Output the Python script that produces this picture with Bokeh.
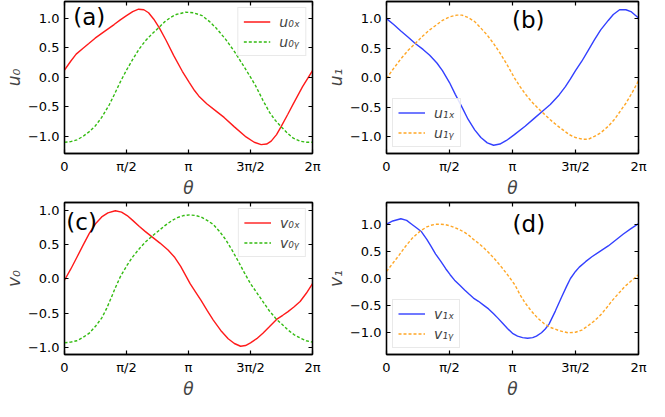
import numpy as np
from bokeh.plotting import figure
from bokeh.models import (Range1d, FixedTicker, CustomJSTickFormatter, LinearAxis,
                          Legend, LegendItem, Label)
from bokeh.layouts import column, row
from bokeh.embed import file_html
from bokeh.resources import INLINE

PI = np.pi
FONT = "DejaVu Sans"

# ---- tick labels ----
x_ticks_pi = [0, 0.5, 1.0, 1.5, 2.0]
x_tick_labels = ["0", "π/2", "π", "3π/2", "2π"]
y_ticks = [-1.0, -0.5, 0.0, 0.5, 1.0]

# ---- data (theta in units of pi) ----
u0x_t = [0, 0.05, 0.094, 0.15, 0.196, 0.247, 0.32, 0.40, 0.45, 0.5, 0.55, 0.597, 0.64, 0.678,
         0.72, 0.766, 0.82, 0.88, 0.95, 1.007, 1.05, 1.084, 1.147, 1.22, 1.287, 1.37, 1.464,
         1.53, 1.586, 1.63, 1.667, 1.71, 1.748, 1.80, 1.845, 1.92, 2.0]
u0x = [0.12, 0.27, 0.39, 0.49, 0.57, 0.66, 0.77, 0.89, 0.97, 1.04, 1.11, 1.15, 1.14, 1.09,
       0.98, 0.83, 0.62, 0.37, 0.1, -0.09, -0.23, -0.32, -0.45, -0.57, -0.68, -0.84, -1.01,
       -1.1, -1.14, -1.13, -1.08, -0.97, -0.83, -0.63, -0.45, -0.16, 0.11]
u0y_t = [0, 0.05, 0.1, 0.15, 0.2, 0.25, 0.3, 0.36, 0.4, 0.45, 0.5, 0.55, 0.6, 0.65, 0.7, 0.766,
         0.81, 0.855, 0.9, 0.977, 1.04, 1.11, 1.17, 1.223, 1.3, 1.375, 1.45, 1.5, 1.54, 1.6,
         1.655, 1.7, 1.748, 1.8, 1.845, 1.9, 1.946, 2.0]
u0y = [-1.1, -1.09, -1.06, -1.0, -0.92, -0.82, -0.68, -0.47, -0.3, -0.08, 0.12, 0.3, 0.47,
       0.61, 0.72, 0.85, 0.94, 1.01, 1.06, 1.1, 1.09, 1.04, 0.94, 0.83, 0.64, 0.42, 0.17, 0.0,
       -0.14, -0.39, -0.6, -0.73, -0.84, -0.95, -1.03, -1.08, -1.1, -1.1]

u1x_t = [0, 0.057, 0.114, 0.17, 0.228, 0.29, 0.343, 0.4, 0.444, 0.5, 0.546, 0.6, 0.647, 0.7,
         0.749, 0.8, 0.85, 0.9, 0.952, 1.015, 1.1, 1.17, 1.24, 1.3, 1.37, 1.42, 1.46, 1.5,
         1.55, 1.6, 1.65, 1.7, 1.76, 1.8, 1.85, 1.9, 1.94, 2.0]
u1x = [1.0, 0.9, 0.79, 0.69, 0.58, 0.48, 0.38, 0.25, 0.12, -0.08, -0.28, -0.5, -0.7, -0.88,
       -1.01, -1.1, -1.14, -1.12, -1.06, -0.96, -0.82, -0.69, -0.56, -0.45, -0.29, -0.15,
       -0.02, 0.12, 0.28, 0.46, 0.64, 0.81, 0.97, 1.07, 1.15, 1.15, 1.12, 1.01]
u1y_t = [0, 0.057, 0.114, 0.17, 0.228, 0.29, 0.343, 0.4, 0.444, 0.5, 0.558, 0.6, 0.647, 0.7,
         0.749, 0.8, 0.85, 0.9, 0.952, 1.015, 1.06, 1.1, 1.15, 1.2, 1.25, 1.3, 1.35, 1.4, 1.45,
         1.5, 1.56, 1.6, 1.65, 1.7, 1.76, 1.81, 1.86, 1.9, 1.95, 2.0]
u1y = [-0.01, 0.16, 0.32, 0.46, 0.58, 0.71, 0.81, 0.9, 0.97, 1.03, 1.06, 1.06, 1.02, 0.95,
       0.84, 0.72, 0.58, 0.42, 0.24, 0.0, -0.15, -0.27, -0.4, -0.51, -0.61, -0.71, -0.8,
       -0.88, -0.96, -1.01, -1.04, -1.04, -0.99, -0.93, -0.82, -0.7, -0.55, -0.43, -0.25,
       -0.05]

v0x_t = [0, 0.05, 0.099, 0.15, 0.2, 0.25, 0.3, 0.35, 0.41, 0.46, 0.505, 0.55, 0.604, 0.65,
         0.706, 0.77, 0.835, 0.89, 0.937, 0.98, 1.013, 1.06, 1.1, 1.15, 1.2, 1.26, 1.32, 1.37,
         1.42, 1.46, 1.5, 1.55, 1.6, 1.65, 1.71, 1.76, 1.8, 1.85, 1.9, 1.95, 2.0]
v0x = [-0.02, 0.14, 0.31, 0.49, 0.66, 0.8, 0.9, 0.96, 0.99, 0.97, 0.92, 0.85, 0.76, 0.69,
       0.61, 0.52, 0.42, 0.31, 0.18, 0.04, -0.07, -0.2, -0.31, -0.46, -0.6, -0.75, -0.87,
       -0.94, -0.98, -0.97, -0.93, -0.87, -0.79, -0.7, -0.59, -0.53, -0.48, -0.41, -0.33,
       -0.21, -0.07]
v0y_t = [0, 0.05, 0.1, 0.15, 0.2, 0.25, 0.3, 0.34, 0.378, 0.41, 0.45, 0.505, 0.55, 0.604,
         0.65, 0.706, 0.76, 0.807, 0.86, 0.91, 0.96, 1.01, 1.06, 1.1, 1.15, 1.2, 1.25, 1.3,
         1.35, 1.4, 1.45, 1.5, 1.55, 1.6, 1.65, 1.71, 1.76, 1.8, 1.85, 1.9, 1.95, 2.0]
v0y = [-0.93, -0.92, -0.9, -0.85, -0.79, -0.69, -0.57, -0.43, -0.27, -0.13, 0.03, 0.2, 0.32,
       0.44, 0.53, 0.62, 0.7, 0.77, 0.84, 0.89, 0.92, 0.93, 0.92, 0.9, 0.85, 0.79, 0.69, 0.57,
       0.42, 0.26, 0.09, -0.07, -0.2, -0.33, -0.46, -0.59, -0.67, -0.74, -0.81, -0.86, -0.9,
       -0.92]

v1x_t = [0, 0.05, 0.114, 0.16, 0.2, 0.24, 0.278, 0.32, 0.354, 0.39, 0.43, 0.47, 0.505, 0.54,
         0.58, 0.62, 0.657, 0.69, 0.73, 0.77, 0.81, 0.85, 0.884, 0.92, 0.96, 1.0, 1.04, 1.08,
         1.12, 1.16, 1.19, 1.23, 1.26, 1.29, 1.34, 1.39, 1.43, 1.46, 1.5, 1.53, 1.58, 1.63,
         1.7, 1.76, 1.82, 1.88, 1.94, 2.0]
v1x = [1.0, 1.06, 1.1, 1.07, 1.0, 0.93, 0.86, 0.72, 0.59, 0.45, 0.32, 0.18, 0.07, -0.03,
       -0.12, -0.21, -0.29, -0.36, -0.42, -0.49, -0.56, -0.65, -0.73, -0.82, -0.92, -1.01,
       -1.06, -1.09, -1.1, -1.09, -1.06, -1.0, -0.93, -0.84, -0.6, -0.34, -0.14, 0.0, 0.13,
       0.21, 0.31, 0.4, 0.51, 0.6, 0.71, 0.82, 0.92, 1.01]
v1y_t = [0, 0.05, 0.1, 0.15, 0.2, 0.24, 0.278, 0.32, 0.354, 0.39, 0.43, 0.47, 0.505, 0.54,
         0.58, 0.62, 0.657, 0.69, 0.73, 0.77, 0.81, 0.85, 0.884, 0.92, 0.96, 1.02, 1.06, 1.1,
         1.15, 1.2, 1.25, 1.3, 1.37, 1.44, 1.5, 1.55, 1.6, 1.65, 1.7, 1.75, 1.79, 1.84, 1.89,
         1.95, 2.0]
v1y = [0.13, 0.28, 0.43, 0.59, 0.73, 0.82, 0.89, 0.95, 0.98, 1.0, 1.0, 0.99, 0.97, 0.94, 0.9,
       0.85, 0.79, 0.72, 0.65, 0.57, 0.48, 0.38, 0.29, 0.19, 0.07, -0.12, -0.3, -0.45, -0.6,
       -0.73, -0.83, -0.9, -0.96, -1.0, -0.99, -0.95, -0.87, -0.78, -0.67, -0.53, -0.41,
       -0.28, -0.15, -0.03, 0.07]

RED, GREEN, BLUE, ORANGE = "#ff1a1a", "#33bb11", "#3340ff", "#ffa726"

xfmt_code = "const k = Math.round(tick/(Math.PI/2)); return labels[k];"
yfmt_code = "return (tick < -1e-9 ? '\u2212' : '') + Math.abs(tick).toFixed(1);"


def style_axis(ax, show_labels):
    ax.axis_line_color = "black"
    ax.axis_line_width = 1.3
    ax.major_tick_in = 4
    ax.major_tick_out = 0
    ax.major_tick_line_color = "black"
    ax.major_tick_line_width = 1.2
    ax.minor_tick_line_color = None
    ax.major_label_text_font = FONT
    if show_labels:
        ax.major_label_text_color = "black"
        ax.major_label_text_font_size = "13px"
        ax.major_label_standoff = 5
    else:
        ax.major_label_text_color = None
        ax.major_label_text_font_size = "0px"
        ax.major_label_standoff = 0


def make_panel(width, height, mbl, mbr, mbt, mbb, yr, ylabel, s1, s2, loc, tag, tag_xy, tag_align):
    p = figure(width=width, height=height, output_backend="svg", toolbar_location=None,
               x_range=Range1d(0, 2 * PI), y_range=Range1d(*yr),
               min_border_left=mbl, min_border_right=mbr,
               min_border_top=mbt, min_border_bottom=mbb)
    p.xgrid.grid_line_color = None
    p.ygrid.grid_line_color = None
    p.outline_line_color = "black"
    p.outline_line_width = 1.3
    p.background_fill_color = "white"
    p.border_fill_color = "white"

    xt = FixedTicker(ticks=[v * PI for v in x_ticks_pi])
    yt = FixedTicker(ticks=y_ticks)
    xf = CustomJSTickFormatter(args=dict(labels=x_tick_labels), code=xfmt_code)
    yf = CustomJSTickFormatter(code=yfmt_code)

    p.xaxis.ticker = xt
    p.xaxis.formatter = xf
    p.yaxis.ticker = yt
    p.yaxis.formatter = yf
    style_axis(p.xaxis[0], True)
    style_axis(p.yaxis[0], True)
    p.xaxis.axis_label = "θ"
    p.yaxis.axis_label = ylabel
    for ax in (p.xaxis[0], p.yaxis[0]):
        ax.axis_label_text_font = FONT
        ax.axis_label_text_font_style = "italic"
        ax.axis_label_text_font_size = "17px"
        ax.axis_label_standoff = 1

    top = LinearAxis(ticker=FixedTicker(ticks=[v * PI for v in x_ticks_pi]))
    style_axis(top, False)
    p.add_layout(top, "above")
    right = LinearAxis(ticker=FixedTicker(ticks=y_ticks))
    style_axis(right, False)
    p.add_layout(right, "right")

    items = []
    for (t, y, name, color, dash) in (s1, s2):
        r = p.line([v * PI for v in t], y, line_color=color, line_width=1.4, line_dash=dash)
        items.append(LegendItem(label=name, renderers=[r]))

    leg = Legend(items=items, location=loc)
    leg.label_text_font = FONT
    leg.label_text_font_style = "italic"
    leg.label_text_font_size = "14px"
    leg.glyph_width = 27
    leg.glyph_height = 17
    leg.label_standoff = 9
    leg.label_height = 17
    leg.spacing = 3
    leg.padding = 5
    leg.margin = 6
    leg.border_line_color = "#d4d4d4"
    leg.border_line_width = 1
    leg.background_fill_alpha = 0.85
    p.add_layout(leg)

    p.add_layout(Label(x=tag_xy[0] * PI, y=tag_xy[1], text=tag, text_font=FONT,
                       text_font_size="23px", text_align=tag_align, text_baseline="middle",
                       text_color="black"))
    return p


pa = make_panel(322, 200, 50, 10, 1, 36, (-1.29, 1.28), "u₀",
                (u0x_t, u0x, "u₀ₓ", RED, "solid"),
                (u0y_t, u0y, "u₀ᵧ", GREEN, "3 2"),
                "top_right", "(a)", (0.07, 1.02), "left")
pb = make_panel(327, 200, 53, 11, 1, 36, (-1.28, 1.29), "u₁",
                (u1x_t, u1x, "u₁ₓ", BLUE, "solid"),
                (u1y_t, u1y, "u₁ᵧ", ORANGE, "3 2"),
                "bottom_left", "(b)", (1.125, 0.97), "center")
pc = make_panel(322, 201, 50, 10, 2, 36, (-1.1, 1.11), "v₀",
                (v0x_t, v0x, "v₀ₓ", RED, "solid"),
                (v0y_t, v0y, "v₀ᵧ", GREEN, "3 2"),
                "top_right", "(c)", (0.015, 0.83), "left")
pd = make_panel(327, 201, 53, 11, 2, 36, (-1.4, 1.4), "v₁",
                (v1x_t, v1x, "v₁ₓ", BLUE, "solid"),
                (v1y_t, v1y, "v₁ᵧ", ORANGE, "3 2"),
                "bottom_left", "(d)", (1.13, 1.01), "center")

layout = column(row(pa, pb), row(pc, pd))
open("out.html", "w").write(file_html(layout, INLINE))
